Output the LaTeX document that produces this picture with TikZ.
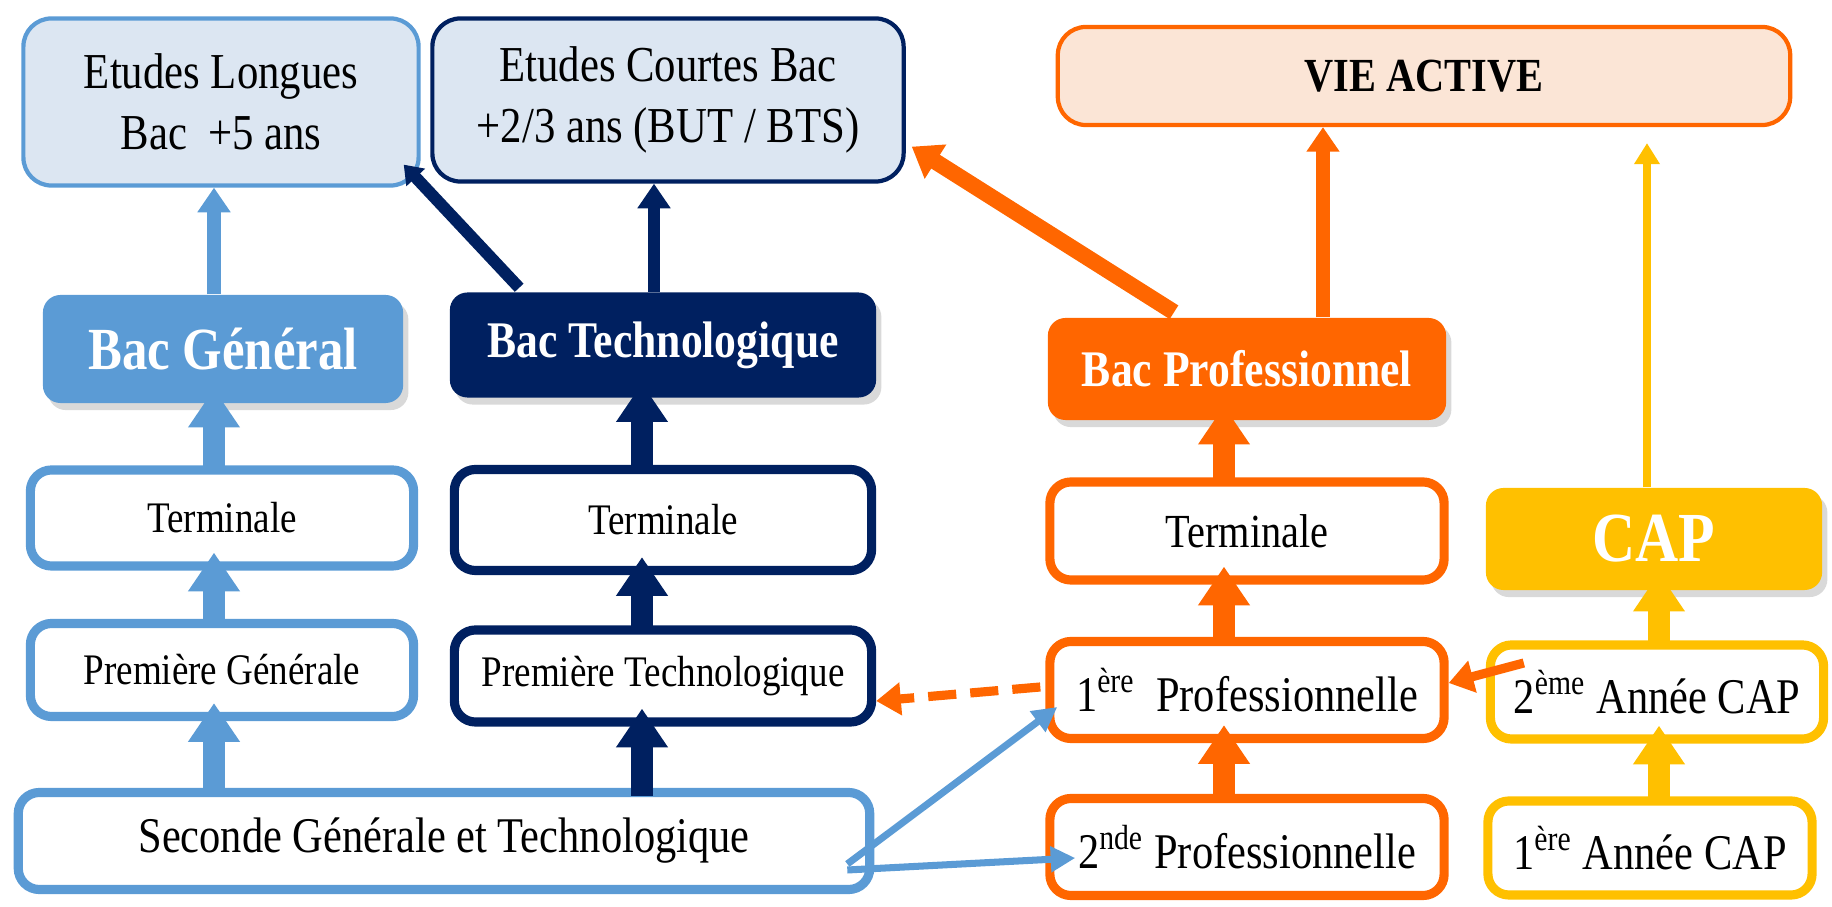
\documentclass[tikz,border=0pt]{standalone}
\usepackage{fontspec}
\setmainfont{Liberation Serif}
\usetikzlibrary{arrows.meta,shadows,calc}
\definecolor{bleuclair}{HTML}{5B9BD5}
\definecolor{marine}{HTML}{002060}
\definecolor{orangevif}{HTML}{FF6600}
\definecolor{jaune}{HTML}{FFC000}
\definecolor{fondbleu}{HTML}{DCE6F2}
\definecolor{fondorange}{HTML}{FBE5D6}
\newcommand{\serre}[1]{\scalebox{0.85}[1]{#1}}
\begin{document}
\begin{tikzpicture}[x=0.01cm, y=-0.01cm,
        classe/.style={draw, line width=2.6pt, rounded corners=6pt, fill=white, align=center, inner sep=0pt},
        bac/.style={rounded corners=5pt, text=white, inner sep=0pt,
            drop shadow={opacity=0.3, shadow xshift=1.5pt, shadow yshift=-2pt}},
        etudes/.style={draw, line width=1.2pt, rounded corners=8pt, fill=fondbleu, align=center, inner sep=0pt,
            font=\fontsize{14.3}{17.5}\selectfont},
        petit/.style={font=\fontsize{12.4}{14}\selectfont},
        grand/.style={font=\fontsize{14.2}{16}\selectfont},
        monte/.style={line width=6.5pt, -{Triangle[width=14pt,length=11pt]}},
        fleche/.style={-{Triangle[width=9pt,length=7pt]}}]
    \useasboundingbox (0,0) rectangle (1832,907);

    \node[etudes, draw=bleuclair, minimum width=3.95cm, minimum height=1.67cm] (longues) at (221,102)
        {\serre{Etudes Longues}\\\serre{Bac\ \ +5 ans}};
    \node[etudes, draw=marine, minimum width=4.71cm, minimum height=1.63cm] (courtes) at (668,100)
        {\serre{Etudes Courtes Bac}\\\serre{+2/3 ans (BUT / BTS)}};
    \node[etudes, draw=orangevif, fill=fondorange, minimum width=7.32cm, minimum height=0.98cm,
        font=\fontsize{13.5}{16}\selectfont\bfseries] (vie) at (1424,76) {\serre{VIE ACTIVE}};

    \node[bac, fill=bleuclair, minimum width=3.6cm, minimum height=1.08cm,
        font=\fontsize{17}{19}\selectfont\bfseries] (bacg) at (223,349) {\serre{Bac Général}};
    \node[bac, fill=marine, minimum width=4.26cm, minimum height=1.05cm,
        font=\fontsize{14.6}{17}\selectfont\bfseries] (bact) at (663,345) {\serre{Bac Technologique}};
    \node[bac, fill=orangevif, minimum width=3.98cm, minimum height=1.02cm,
        font=\fontsize{14.6}{17}\selectfont\bfseries] (bacp) at (1247,369) {\serre{Bac Professionnel}};
    \node[bac, fill=jaune, minimum width=3.36cm, minimum height=1.02cm,
        font=\fontsize{20}{22}\selectfont\bfseries] (cap) at (1654,539) {\serre{CAP}};

    \node[classe, petit, draw=bleuclair, minimum width=3.83cm, minimum height=0.96cm] (terg) at (222,518) {\serre{Terminale}};
    \node[classe, petit, draw=bleuclair, minimum width=3.83cm, minimum height=0.93cm] (prg) at (222,670) {\serre{Première Générale}};
    \node[classe, petit, draw=marine, minimum width=4.17cm, minimum height=1.01cm] (tert) at (663,520) {\serre{Terminale}};
    \node[classe, petit, draw=marine, minimum width=4.17cm, minimum height=0.92cm] (prt) at (663,676) {\serre{Première Technologique}};
    \node[classe, grand, draw=bleuclair, minimum width=8.51cm, minimum height=0.97cm] (sec) at (444,841)
        {\serre{Seconde Générale et Technologique}};

    \node[classe, font=\fontsize{13.5}{15}\selectfont, draw=orangevif, minimum width=3.94cm, minimum height=0.98cm] (terp) at (1247,531) {\serre{Terminale}};
    \node[classe, grand, draw=orangevif, minimum width=3.94cm, minimum height=0.97cm] (prp) at (1247,690)
        {\serre{1\textsuperscript{ère}\ \ Professionnelle}};
    \node[classe, grand, draw=orangevif, minimum width=3.94cm, minimum height=0.97cm] (secp) at (1247,847)
        {\serre{2\textsuperscript{nde} Professionnelle}};
    \node[classe, grand, draw=jaune, minimum width=3.33cm, minimum height=0.94cm] (cap2) at (1657,692)
        {\serre{2\textsuperscript{ème} Année CAP}};
    \node[classe, grand, draw=jaune, minimum width=3.24cm, minimum height=0.94cm] (cap1) at (1650,848)
        {\serre{1\textsuperscript{ère} Année CAP}};

    \draw[monte, bleuclair] ($(prg.south |- sec.north)+(-8,8)$) to ($(prg.south)+(-8,-18)$);
    \draw[monte, bleuclair] ($(prg.north)+(-8,8)$) to ($(terg.south)+(-8,-18)$);
    \draw[monte, bleuclair] ($(terg.north)+(-8,8)$) to ($(bacg.south)+(-9,-15)$);
    \draw[fleche, bleuclair, line width=4pt] ($(bacg.north)+(-9,0)$) to ($(longues.south)+(-7,0)$);

    \draw[monte, marine] ($(prt.south |- sec.north)+(-21,8)$) to ($(prt.south)+(-21,-18)$);
    \draw[monte, marine] ($(prt.north)+(-21,8)$) to ($(tert.south)+(-21,-18)$);
    \draw[monte, marine] ($(tert.north)+(-21,8)$) to ($(bact.south)+(-21,-15)$);
    \draw[fleche, marine, line width=3.6pt] ($(bact.north)+(-9,0)$) to ($(courtes.south)+(-14,0)$);
    \draw[marine, line width=3.4pt, -{Triangle[width=7pt,length=5pt]}]
        ($(bact.north west)+(70,-4)$) to ($(longues.south east)+(-17,-23)$);

    \draw[monte, orangevif] ($(secp.north)+(-23,8)$) to ($(prp.south)+(-23,-18)$);
    \draw[monte, orangevif] ($(prp.north)+(-23,8)$) to ($(terp.south)+(-23,-18)$);
    \draw[monte, orangevif] ($(terp.north)+(-23,8)$) to ($(bacp.south)+(-23,-15)$);
    \draw[fleche, orangevif, line width=4pt] ($(bacp.north)+(76,0)$) to ($(vie.south)+(-101,0)$);
    \draw[orangevif, line width=4.6pt, -{Triangle[width=11pt,length=8pt]}]
        ($(bacp.north)+(-73,-5)$) to ($(courtes.south east)+(6,-37)$);

    \draw[monte, jaune] ($(cap2.south |- cap1.north)+(2,8)$) to ($(cap2.south)+(2,-18)$);
    \draw[monte, jaune] ($(cap2.north)+(2,8)$) to ($(cap.south)+(5,-18)$);
    \draw[jaune, line width=2.2pt, -{Triangle[width=7pt,length=6pt]}]
        ($(cap.north)+(-7,0)$) to ($(vie.south -| cap.north)+(-7,16)$);

    \draw[orangevif, line width=2.6pt, dash pattern=on 8pt off 4pt, -{Triangle[width=9pt,length=7pt]}]
        ($(prp.west)+(-5,-3)$) to ($(prt.east)+(0,25)$);
    \draw[orangevif, line width=2.6pt, -{Triangle[width=9pt,length=7pt]}]
        ($(cap2.west)+(38,-29)$) to ($(prp.east)+(0,-7)$);

    \draw[bleuclair, line width=2pt, -{Triangle[width=7pt,length=7pt]}]
        ($(sec.east)+(-27,23)$) to ($(prp.west)+(12,17)$);
    \draw[bleuclair, line width=2pt, -{Triangle[width=7pt,length=7pt]}]
        ($(sec.east)+(-27,29)$) to ($(secp.west)+(30,11)$);
\end{tikzpicture}
\end{document}
